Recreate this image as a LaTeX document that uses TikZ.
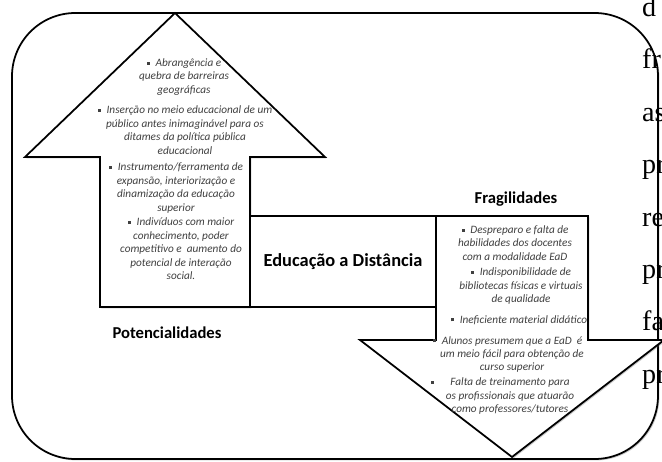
\documentclass[tikz,border=0pt]{standalone}
\usepackage{fontspec}
\setmainfont{Carlito}
\newfontfamily\pagefont{Liberation Serif}
\usetikzlibrary{shadows}
\newcommand{\sq}{\raisebox{1.5pt}{\rule{2.6pt}{2.6pt}}\hspace{5pt}}

\begin{document}
\begin{tikzpicture}[x=0.3mm, y=-0.3mm,
		shapeline/.style={draw=black, line width=1.5pt, fill=white, line join=miter,
			drop shadow={shadow xshift=1.2pt, shadow yshift=-1.2pt, opacity=0.35, fill=black!60}},
		itemtext/.style={align=center, inner sep=0pt, text=black!75,
			font=\fontsize{9.6}{11.5}\selectfont\itshape},
		heading/.style={inner sep=0pt, font=\fontsize{14.2}{17}\selectfont\bfseries},
		pageword/.style={anchor=base west, inner sep=0pt, font=\pagefont\fontsize{24}{28}\selectfont}]
		\useasboundingbox (0,0) rectangle (662,462);
		\clip (0,0) rectangle (662,462);

		\draw[shapeline, rounded corners=19mm] (12,13) rectangle (658,459);

		\draw[shapeline] (175,13) -- (325,157) -- (250,157) -- (250,307) -- (100,307) -- (100,157) -- (25,157) -- cycle;
		\node[shapeline, minimum width=55.8mm, minimum height=27.3mm, font=\fontsize{15.7}{19}\selectfont\bfseries] (ead) at (343,261.5) {Educação a Distância};
		\draw[shapeline] (436,216) -- (588,216) -- (588,340) -- (664,340) -- (512,457) -- (360,340) -- (436,340) -- cycle;

		\node[itemtext] (pot1) at (184,77) {\sq Abrangência e\\quebra de barreiras\\geográficas};
		\node[itemtext] (pot2) at (185,130) {\sq Inserção no meio educacional de um\\público antes inimaginável para os\\ditames da política pública\\educacional};
		\node[itemtext] (pot3) at (176,188) {\sq Instrumento/ferramenta de\\expansão, interiorização e\\dinamização da educação\\superior};
		\node[itemtext] (pot4) at (181,249) {\sq Indivíduos com maior\\conhecimento, poder\\competitivo e\ \ aumento do\\potencial de interação\\social.};

		\node[itemtext] (frag1) at (515,243) {\sq Despreparo e falta de\\habilidades dos docentes\\com a modalidade EaD};
		\node[itemtext] (frag2) at (521,286) {\sq Indisponibilidade de\\bibliotecas físicas e virtuais\\de qualidade};
		\node[itemtext] (frag3) at (519,320) {\sq Ineficiente material didático};
		\node[itemtext] (frag4) at (512,354.5) {\llap{\raisebox{1.5pt}{\rule{2.6pt}{2.6pt}}\hspace{5pt}}Alunos presumem que a EaD\ \ é\\um meio fácil para obtenção de\\curso superior};
		\node[itemtext] (frag5) at (510,396) {\llap{\raisebox{1.5pt}{\rule{2.6pt}{2.6pt}}\hspace{14pt}}Falta de treinamento para\\os profissionais que atuarão\\como professores/tutores};

		\node[heading] (pot) at (167,333) {Potencialidades};
		\node[heading] (frag) at (516,199) {Fragilidades};

		\node[pageword] (w1) at (642,16) {d};
		\node[pageword] (w2) at (642,68) {fr};
		\node[pageword] (w3) at (642,121) {as};
		\node[pageword] (w4) at (642,173) {pr};
		\node[pageword] (w5) at (642,226) {re};
		\node[pageword] (w6) at (642,278) {pr};
		\node[pageword] (w7) at (642,330) {fa};
		\node[pageword] (w8) at (642,383) {pr};
	\end{tikzpicture}
\end{document}
